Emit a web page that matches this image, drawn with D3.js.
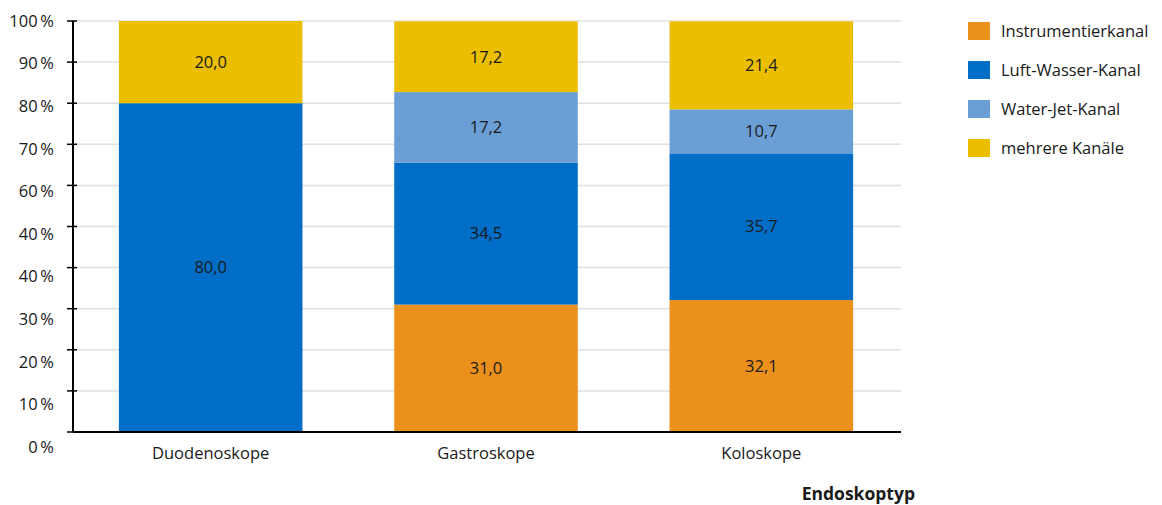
<!DOCTYPE html>
<html>
<head>
<meta charset="utf-8">
<script src="https://cdn.jsdelivr.net/npm/d3@7"></script>
<style>
    body { margin: 0; background: #fff; }
    svg { display: block; font-family: "Open Sans", sans-serif; }
</style>
</head>
<body>
<div id="chart"></div>
<script>
// data
const categories = ['Duodenoskope', 'Gastroskope', 'Koloskope'];
const seriesNames = ['Instrumentierkanal', 'Luft-Wasser-Kanal', 'Water-Jet-Kanal', 'mehrere Kanäle'];
const instrumentierkanal = [0, 31.0, 32.1];
const luftWasserKanal = [80.0, 34.5, 35.7];
const waterJetKanal = [0, 17.2, 10.7];
const mehrereKanaele = [20.0, 17.2, 21.4];
// tick labels as printed in the source (incl. the duplicated 40 %)
const tickLabels = ['0\u2009%', '10\u2009%', '20\u2009%', '30\u2009%', '40\u2009%', '40\u2009%',
    '60\u2009%', '70\u2009%', '80\u2009%', '90\u2009%', '100\u2009%'];
const colors = ['#ea901b', '#006dc7', '#6a9fd6', '#ebbe00'];

const width = 1162;
const height = 505;
const margin = {top: 21, left: 73, bottom: 73, right: 261};
const graphWidth = width - margin.left - margin.right;
const graphHeight = height - margin.top - margin.bottom;
const fontSize = 16.5;

const svg = d3.select('#chart').append('svg')
    .attr('width', width)
    .attr('height', height);

const table = categories.map((c, i) => ({
    category: c,
    [seriesNames[0]]: instrumentierkanal[i],
    [seriesNames[1]]: luftWasserKanal[i],
    [seriesNames[2]]: waterJetKanal[i],
    [seriesNames[3]]: mehrereKanaele[i],
}));
const stacked = d3.stack().keys(seriesNames)(table);

const xFun = d3.scaleBand()
    .domain(categories)
    .range([0, graphWidth - 2])
    .paddingInner(1 / 3)
    .paddingOuter(1 / 6);

const yFun = d3.scaleLinear()
    .domain([0, 100])
    .range([graphHeight, 0]);

// labels drift a bit lower than the ticks in the source
const labelFun = d3.scaleLinear()
    .domain([0, 100])
    .range([graphHeight + 15, 0]);

const g = svg.append('g').attr('transform', `translate(${margin.left}, ${margin.top})`);

// gridlines
g.append('g').selectAll('line')
    .data(d3.range(10, 101, 10))
    .join('line')
    .attr('x1', 0)
    .attr('x2', graphWidth)
    .attr('y1', d => yFun(d))
    .attr('y2', d => yFun(d))
    .attr('stroke', '#e0e0e0')
    .attr('stroke-width', 1.5);

// bars
const layers = g.append('g').selectAll('g')
    .data(stacked)
    .join('g')
    .attr('fill', (d, i) => colors[i]);

layers.selectAll('rect')
    .data(d => d.map(v => ({v, key: d.key})))
    .join('rect')
    .attr('x', d => xFun(d.v.data.category))
    .attr('width', xFun.bandwidth())
    .attr('y', d => yFun(d.v[1]))
    .attr('height', d => yFun(d.v[0]) - yFun(d.v[1]));

// value labels
layers.selectAll('text')
    .data(d => d.filter(v => v[1] - v[0] > 0))
    .join('text')
    .attr('x', d => xFun(d.data.category) + xFun.bandwidth() / 2)
    .attr('y', d => yFun((d[0] + d[1]) / 2))
    .attr('dy', '0.35em')
    .attr('text-anchor', 'middle')
    .attr('fill', '#1a1a1a')
    .attr('font-size', fontSize)
    .text(d => d3.format('.1f')(d[1] - d[0]).replace('.', ','));

// y axis
const yAxis = g.append('g');
yAxis.append('line')
    .attr('x1', 0).attr('x2', 0)
    .attr('y1', 0).attr('y2', graphHeight)
    .attr('stroke', '#000').attr('stroke-width', 2);
yAxis.selectAll('.tick')
    .data(d3.range(0, 101, 10))
    .join('line')
    .attr('x1', -6).attr('x2', 4)
    .attr('y1', d => yFun(d)).attr('y2', d => yFun(d))
    .attr('stroke', '#000').attr('stroke-width', 1.5);
yAxis.selectAll('text')
    .data(d3.range(0, 101, 10))
    .join('text')
    .attr('x', -19)
    .attr('y', d => labelFun(d))
    .attr('dy', '0.35em')
    .attr('text-anchor', 'end')
    .attr('font-size', fontSize)
    .attr('fill', '#1a1a1a')
    .text((d, i) => tickLabels[i]);

// x axis
g.append('line')
    .attr('x1', 0).attr('x2', graphWidth)
    .attr('y1', graphHeight).attr('y2', graphHeight)
    .attr('stroke', '#000').attr('stroke-width', 2);
g.append('g').selectAll('text')
    .data(categories)
    .join('text')
    .attr('x', d => xFun(d) + xFun.bandwidth() / 2)
    .attr('y', graphHeight + 21)
    .attr('dy', '0.35em')
    .attr('text-anchor', 'middle')
    .attr('font-size', fontSize)
    .attr('fill', '#1a1a1a')
    .text(d => d);

svg.append('text')
    .attr('x', 915)
    .attr('y', 494)
    .attr('dy', '0.35em')
    .attr('text-anchor', 'end')
    .attr('font-size', 17.5)
    .attr('font-weight', 'bold')
    .attr('fill', '#1a1a1a')
    .text('Endoskoptyp');

// legend
const legend = svg.append('g').attr('transform', 'translate(968, 22)');
const items = legend.selectAll('g')
    .data(seriesNames)
    .join('g')
    .attr('transform', (d, i) => `translate(0, ${i * 39})`);
items.append('rect')
    .attr('width', 22)
    .attr('height', 18)
    .attr('fill', (d, i) => colors[i]);
items.append('text')
    .attr('x', 33)
    .attr('y', 9)
    .attr('dy', '0.35em')
    .attr('font-size', fontSize)
    .attr('fill', '#1a1a1a')
    .text(d => d);
</script>
</body>
</html>
